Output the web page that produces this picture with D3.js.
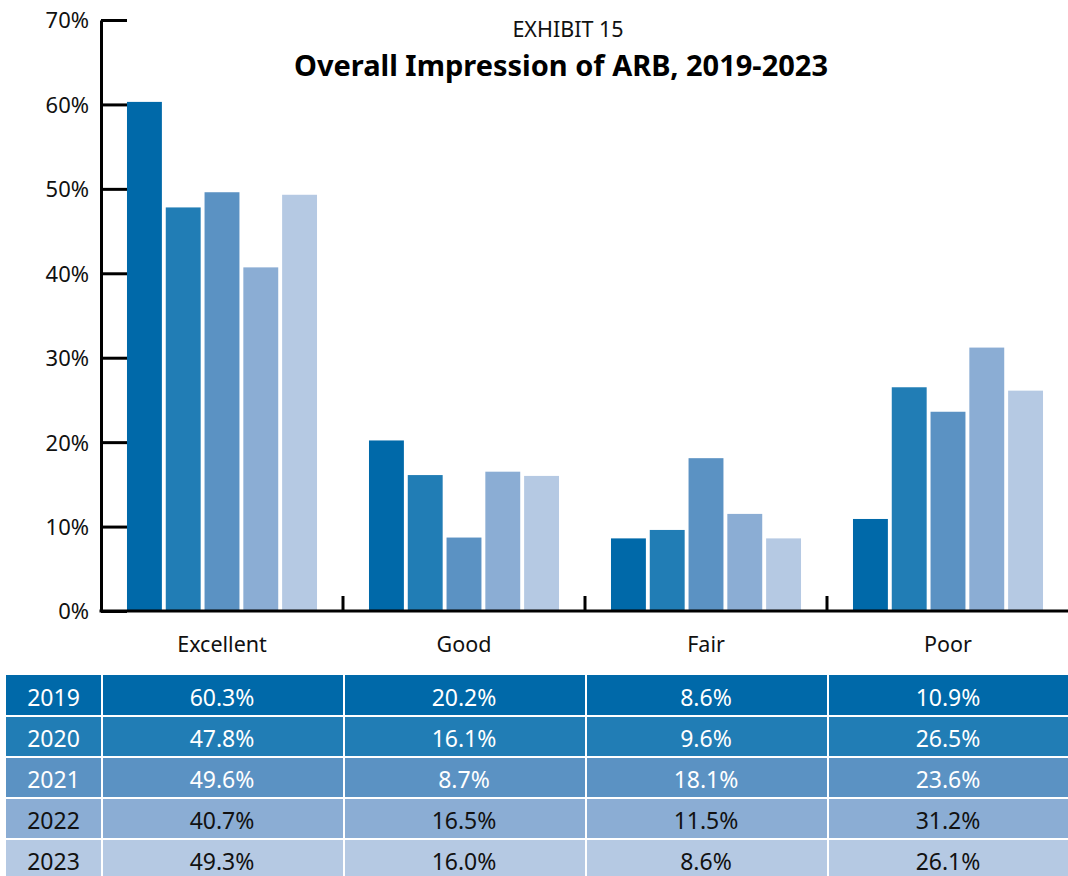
<!DOCTYPE html>
<html>
<head>
<meta charset="utf-8">
<script src="https://cdn.jsdelivr.net/npm/d3@7"></script>
<style>
  html, body { margin: 0; padding: 0; background: #fff; }
  svg { display: block; font-family: "Noto Sans", "Open Sans", sans-serif; }
</style>
</head>
<body>
<svg id="chart" width="1068" height="876"></svg>
<script>
const categories = ["Excellent", "Good", "Fair", "Poor"];
const years = ["2019", "2020", "2021", "2022", "2023"];
const v2019 = [60.3, 20.2, 8.6, 10.9];
const v2020 = [47.8, 16.1, 9.6, 26.5];
const v2021 = [49.6, 8.7, 18.1, 23.6];
const v2022 = [40.7, 16.5, 11.5, 31.2];
const v2023 = [49.3, 16.0, 8.6, 26.1];
const yTicks = [0, 10, 20, 30, 40, 50, 60, 70];
const seriesValues = [v2019, v2020, v2021, v2022, v2023];

const colors = ["#0069a9", "#217db5", "#5b92c3", "#8badd4", "#b5c9e3"];
const rowText = ["#fff", "#fff", "#fff", "#111", "#111"];

const svg = d3.select("#chart");

const axisX0 = 101, axisRight = 1069;
const y = d3.scaleLinear().domain([0, 70]).range([611, 20]);
const x0 = d3.scaleBand().domain(categories).range([axisX0, axisRight]).paddingInner(0).paddingOuter(0);
const x1 = d3.scaleBand().domain(years).range([0, x0.bandwidth()]).paddingInner(0.1).paddingOuter(0.67);

// Titles
svg.append("text").attr("x", 568).attr("y", 37).attr("text-anchor", "middle")
  .attr("font-size", 21.5).attr("fill", "#111").text("EXHIBIT 15");
svg.append("text").attr("x", 561).attr("y", 76).attr("text-anchor", "middle")
  .attr("font-size", 29).attr("font-weight", "bold").attr("fill", "#000")
  .text("Overall Impression of ARB, 2019-2023");

// Bars
const data = [];
categories.forEach((c, ci) => years.forEach((yr, yi) => data.push({c, yr, yi, v: seriesValues[yi][ci]})));
svg.append("g").selectAll("rect").data(data).join("rect")
  .attr("x", d => x0(d.c) + x1(d.yr))
  .attr("y", d => y(d.v))
  .attr("width", x1.bandwidth())
  .attr("height", d => y(0) - y(d.v))
  .attr("fill", d => colors[d.yi]);

// Y axis
const yAxis = d3.axisLeft(y).tickValues(yTicks).tickFormat(d => d + "%")
  .tickSizeInner(-26).tickSizeOuter(0).tickPadding(12);
const gy = svg.append("g").attr("transform", `translate(${axisX0},0)`).call(yAxis);
gy.select(".domain").attr("stroke", "#000").attr("stroke-width", 3);
gy.selectAll(".tick line").attr("stroke", "#000").attr("stroke-width", 3);
gy.selectAll(".tick text").attr("font-size", 22).attr("fill", "#111").attr("dy", "0.36em")
  .attr("font-family", "'Noto Sans', sans-serif");

// X axis
const gx = svg.append("g");
gx.append("line").attr("x1", axisX0 - 1.5).attr("x2", 1068).attr("y1", y(0)).attr("y2", y(0))
  .attr("stroke", "#000").attr("stroke-width", 3);
gx.selectAll("line.sep").data(categories.slice(0, 3)).join("line").attr("class", "sep")
  .attr("x1", d => x0(d) + x0.bandwidth()).attr("x2", d => x0(d) + x0.bandwidth())
  .attr("y1", y(0)).attr("y2", y(0) - 15)
  .attr("stroke", "#000").attr("stroke-width", 3);
gx.selectAll("text").data(categories).join("text")
  .attr("x", d => x0(d) + x0.bandwidth() / 2)
  .attr("y", 652).attr("text-anchor", "middle").attr("font-size", 21.5).attr("fill", "#111")
  .text(d => d);

// Table
const tableTop = 675, rowH = 41, yearColL = 6;
const tbl = svg.append("g");
years.forEach((yr, yi) => {
  const ry = tableTop + yi * rowH;
  const row = tbl.append("g");
  row.append("rect").attr("x", yearColL).attr("y", ry).attr("width", 1068 - yearColL).attr("height", rowH)
    .attr("fill", colors[yi]);
  row.append("text").attr("x", (yearColL + axisX0) / 2).attr("y", ry + 31).attr("text-anchor", "middle")
    .attr("font-size", 23).attr("fill", rowText[yi]).text(yr);
  row.selectAll("text.val").data(categories).join("text").attr("class", "val")
    .attr("x", d => x0(d) + x0.bandwidth() / 2).attr("y", ry + 31).attr("text-anchor", "middle")
    .attr("font-size", 23).attr("fill", rowText[yi])
    .text((d, ci) => seriesValues[yi][ci].toFixed(1) + "%");
});
// grid lines
for (let i = 1; i < years.length; i++) {
  tbl.append("line").attr("x1", yearColL).attr("x2", 1068)
    .attr("y1", tableTop + i * rowH).attr("y2", tableTop + i * rowH)
    .attr("stroke", "#fff").attr("stroke-width", 2);
}
const colEdges = [axisX0].concat(categories.slice(0, 3).map(c => x0(c) + x0.bandwidth()));
tbl.selectAll("line.v").data(colEdges).join("line").attr("class", "v")
  .attr("x1", d => d + 1).attr("x2", d => d + 1).attr("y1", tableTop).attr("y2", 876)
  .attr("stroke", "#fff").attr("stroke-width", 2);
</script>
</body>
</html>
